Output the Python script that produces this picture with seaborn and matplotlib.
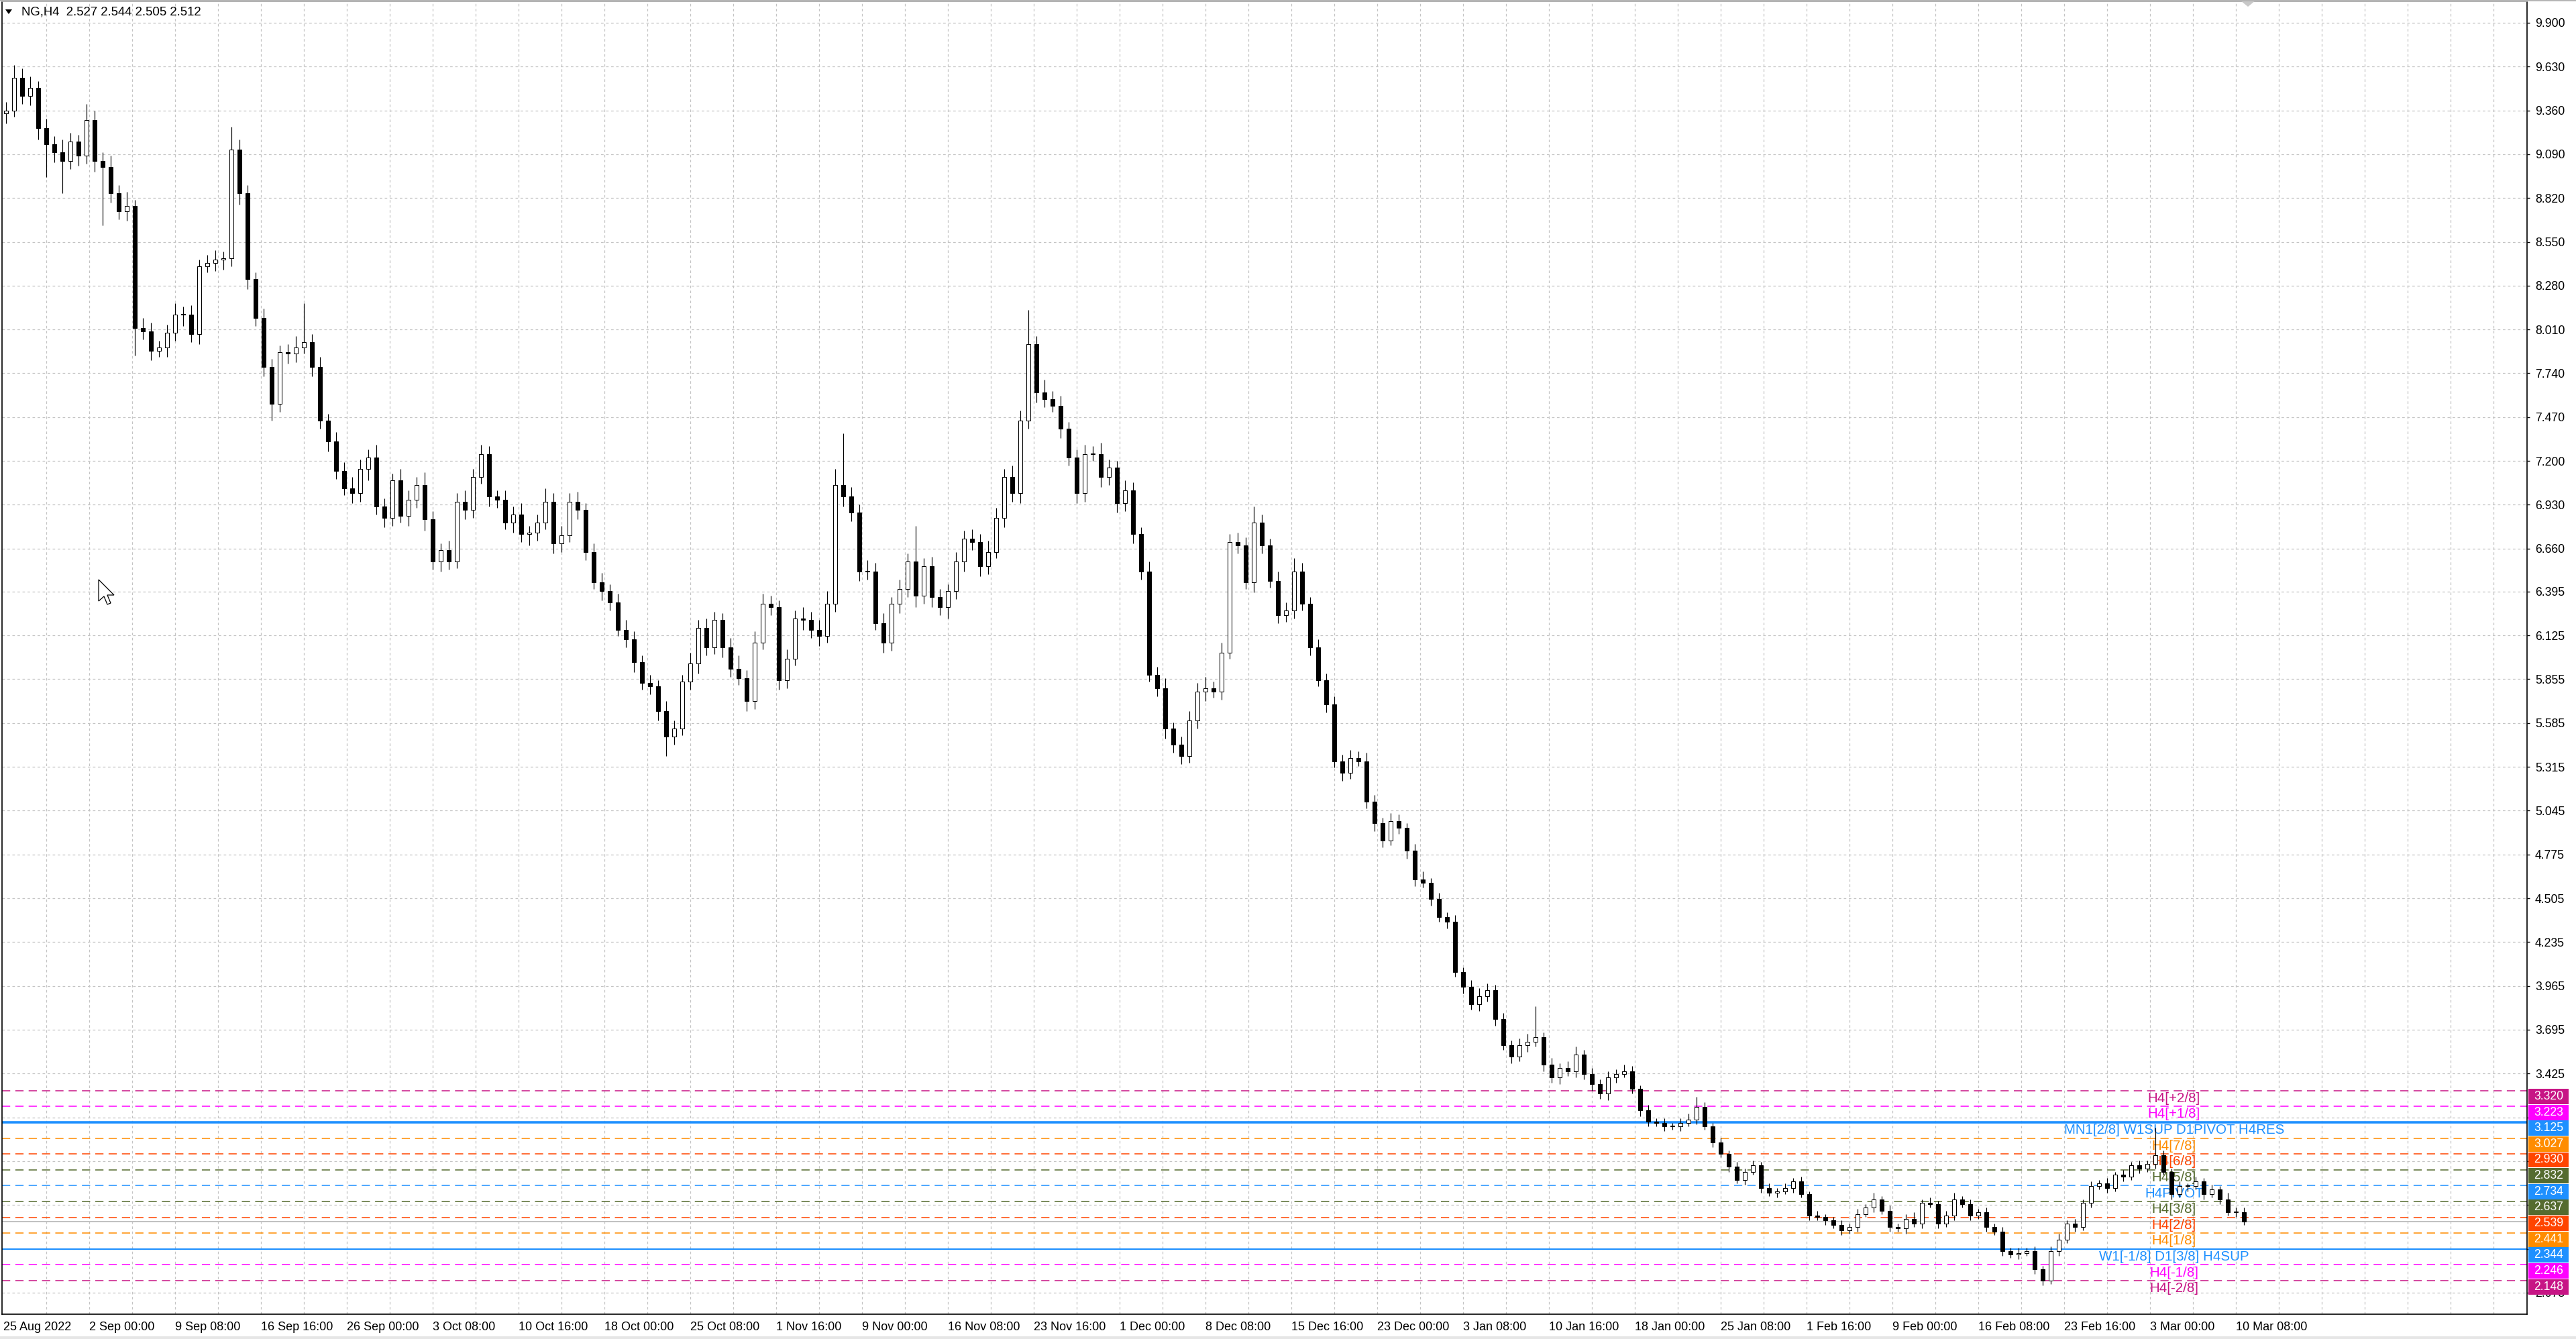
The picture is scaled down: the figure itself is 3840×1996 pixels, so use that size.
import numpy as np
import matplotlib.pyplot as plt
import seaborn as sns
from matplotlib.patches import Rectangle, Polygon
from matplotlib.lines import Line2D
from matplotlib.transforms import blended_transform_factory

# =============================================================================
# DATA (NG, H4 - every candle here groups 3 H4 bars)
# =============================================================================
title_text = "NG,H4  2.527 2.544 2.505 2.512"
bars_per_candle = 3
first_open = 9.34

closes = [
    9.36, 9.56, 9.45, 9.50, 9.25, 9.15, 9.10, 9.05, 9.17, 9.08, 9.30, 9.05, 9.01, 8.85, 8.74, 8.77, 8.02, 8.00, 7.88, 7.90,
    7.99, 8.10, 8.10, 7.98, 8.40, 8.42, 8.44, 8.45, 9.12, 8.85, 8.32, 8.08, 7.78, 7.55, 7.87, 7.86, 7.90, 7.93, 7.78, 7.45,
    7.32, 7.14, 7.03, 7.00, 7.15, 7.22, 6.92, 6.85, 7.08, 6.86, 6.96, 7.05, 6.84, 6.58, 6.65, 6.58, 6.95, 6.90, 7.10, 7.24,
    6.98, 6.96, 6.82, 6.87, 6.75, 6.76, 6.82, 6.95, 6.69, 6.74, 6.95, 6.90, 6.64, 6.45, 6.40, 6.33, 6.16, 6.10, 5.96, 5.83,
    5.81, 5.66, 5.50, 5.55, 5.84, 5.95, 6.17, 6.05, 6.22, 6.05, 5.92, 5.86, 5.72, 6.08, 6.32, 6.30, 5.85, 5.98, 6.23, 6.22,
    6.16, 6.12, 6.32, 7.05, 6.98, 6.88, 6.52, 6.52, 6.20, 6.08, 6.32, 6.41, 6.58, 6.37, 6.55, 6.36, 6.30, 6.40, 6.58, 6.72,
    6.70, 6.55, 6.64, 6.85, 7.10, 7.00, 7.45, 7.92, 7.62, 7.58, 7.54, 7.40, 7.22, 7.00, 7.24, 7.24, 7.10, 7.16, 6.94, 7.02,
    6.75, 6.52, 5.88, 5.80, 5.55, 5.45, 5.38, 5.60, 5.78, 5.80, 5.78, 6.02, 6.70, 6.68, 6.45, 6.82, 6.68, 6.46, 6.25, 6.28,
    6.52, 6.32, 6.05, 5.85, 5.70, 5.35, 5.28, 5.37, 5.35, 5.10, 4.97, 4.86, 4.98, 4.94, 4.80, 4.62, 4.60, 4.50, 4.39, 4.36,
    4.05, 3.96, 3.85, 3.90, 3.94, 3.76, 3.60, 3.53, 3.60, 3.62, 3.65, 3.48, 3.40, 3.46, 3.44, 3.54, 3.42, 3.36, 3.30, 3.40,
    3.42, 3.44, 3.33, 3.20, 3.13, 3.12, 3.10, 3.10, 3.12, 3.14, 3.22, 3.10, 3.00, 2.93, 2.85, 2.77, 2.82, 2.86, 2.72, 2.69,
    2.70, 2.72, 2.76, 2.68, 2.55, 2.54, 2.52, 2.49, 2.46, 2.48, 2.56, 2.60, 2.65, 2.58, 2.48, 2.47, 2.53, 2.50, 2.63, 2.62,
    2.50, 2.55, 2.65, 2.62, 2.55, 2.57, 2.48, 2.45, 2.33, 2.31, 2.32, 2.33, 2.22, 2.15, 2.33, 2.40, 2.50, 2.48, 2.63, 2.73,
    2.75, 2.72, 2.80, 2.79, 2.86, 2.84, 2.87, 2.92, 2.82, 2.68, 2.73, 2.73, 2.76, 2.68, 2.71, 2.65, 2.57, 2.57, 2.512,
]

upper_wick = [
    0.05, 0.08, 0.06, 0.07, 0.04, 0.06, 0.05, 0.08, 0.05, 0.04, 0.10, 0.06, 0.05, 0.07, 0.05, 0.09, 0.04, 0.06, 0.05, 0.04,
    0.05, 0.07, 0.05, 0.06, 0.04, 0.05, 0.06, 0.04, 0.14, 0.06, 0.05, 0.04, 0.06, 0.05, 0.04, 0.05, 0.07, 0.24, 0.05, 0.06,
    0.04, 0.06, 0.05, 0.07, 0.06, 0.05, 0.08, 0.05, 0.04, 0.07, 0.06, 0.05, 0.08, 0.05, 0.04, 0.06, 0.05, 0.07, 0.05, 0.06,
    0.05, 0.04, 0.06, 0.05, 0.07, 0.04, 0.05, 0.08, 0.05, 0.06, 0.05, 0.06, 0.04, 0.05, 0.06, 0.04, 0.05, 0.06, 0.05, 0.04,
    0.05, 0.04, 0.06, 0.05, 0.04, 0.07, 0.05, 0.06, 0.05, 0.04, 0.06, 0.08, 0.05, 0.07, 0.06, 0.05, 0.04, 0.06, 0.05, 0.07,
    0.05, 0.06, 0.08, 0.10, 0.32, 0.06, 0.05, 0.07, 0.05, 0.06, 0.04, 0.06, 0.05, 0.22, 0.05, 0.06, 0.05, 0.04, 0.06, 0.05,
    0.06, 0.05, 0.07, 0.06, 0.05, 0.07, 0.06, 0.21, 0.05, 0.08, 0.05, 0.06, 0.04, 0.05, 0.06, 0.05, 0.07, 0.05, 0.04, 0.06,
    0.05, 0.04, 0.06, 0.05, 0.06, 0.04, 0.05, 0.06, 0.05, 0.07, 0.04, 0.06, 0.05, 0.06, 0.05, 0.10, 0.05, 0.04, 0.06, 0.05,
    0.08, 0.05, 0.04, 0.05, 0.04, 0.05, 0.04, 0.05, 0.04, 0.05, 0.04, 0.03, 0.05, 0.04, 0.03, 0.04, 0.05, 0.03, 0.04, 0.03,
    0.04, 0.03, 0.04, 0.05, 0.04, 0.03, 0.04, 0.03, 0.04, 0.05, 0.19, 0.03, 0.04, 0.03, 0.04, 0.05, 0.03, 0.04, 0.03, 0.04,
    0.03, 0.04, 0.03, 0.02, 0.03, 0.02, 0.03, 0.02, 0.03, 0.04, 0.06, 0.03, 0.02, 0.03, 0.02, 0.03, 0.02, 0.03, 0.02, 0.03,
    0.02, 0.03, 0.02, 0.03, 0.02, 0.03, 0.02, 0.02, 0.03, 0.02, 0.03, 0.02, 0.04, 0.02, 0.03, 0.02, 0.03, 0.04, 0.02, 0.03,
    0.02, 0.03, 0.04, 0.02, 0.03, 0.02, 0.03, 0.02, 0.03, 0.02, 0.03, 0.02, 0.03, 0.02, 0.03, 0.04, 0.02, 0.03, 0.02, 0.03,
    0.02, 0.03, 0.02, 0.03, 0.02, 0.03, 0.02, 0.17, 0.03, 0.02, 0.03, 0.02, 0.03, 0.02, 0.03, 0.02, 0.04, 0.03, 0.03,
]

lower_wick = [
    0.06, 0.04, 0.05, 0.06, 0.07, 0.20, 0.06, 0.20, 0.05, 0.06, 0.05, 0.07, 0.36, 0.06, 0.05, 0.06, 0.17, 0.05, 0.06, 0.04,
    0.06, 0.05, 0.07, 0.05, 0.06, 0.04, 0.05, 0.06, 0.05, 0.07, 0.06, 0.05, 0.06, 0.10, 0.05, 0.06, 0.05, 0.04, 0.06, 0.05,
    0.06, 0.05, 0.04, 0.06, 0.05, 0.07, 0.05, 0.06, 0.05, 0.04, 0.06, 0.05, 0.07, 0.05, 0.06, 0.05, 0.04, 0.06, 0.05, 0.04,
    0.06, 0.05, 0.04, 0.06, 0.05, 0.07, 0.05, 0.04, 0.06, 0.05, 0.04, 0.06, 0.05, 0.04, 0.06, 0.05, 0.04, 0.05, 0.06, 0.04,
    0.05, 0.06, 0.12, 0.05, 0.04, 0.05, 0.06, 0.05, 0.04, 0.06, 0.05, 0.04, 0.06, 0.05, 0.04, 0.05, 0.06, 0.05, 0.04, 0.06,
    0.05, 0.06, 0.04, 0.05, 0.06, 0.05, 0.06, 0.05, 0.04, 0.06, 0.05, 0.06, 0.05, 0.07, 0.05, 0.06, 0.05, 0.07, 0.05, 0.06,
    0.05, 0.06, 0.05, 0.04, 0.06, 0.05, 0.06, 0.05, 0.06, 0.05, 0.04, 0.06, 0.05, 0.06, 0.05, 0.04, 0.06, 0.05, 0.06, 0.05,
    0.06, 0.05, 0.04, 0.05, 0.06, 0.05, 0.05, 0.04, 0.05, 0.06, 0.04, 0.05, 0.04, 0.05, 0.04, 0.06, 0.05, 0.04, 0.05, 0.04,
    0.05, 0.04, 0.05, 0.04, 0.05, 0.04, 0.05, 0.04, 0.03, 0.04, 0.05, 0.04, 0.03, 0.04, 0.05, 0.04, 0.03, 0.04, 0.03, 0.04,
    0.03, 0.04, 0.03, 0.04, 0.03, 0.04, 0.03, 0.04, 0.03, 0.04, 0.03, 0.04, 0.03, 0.04, 0.03, 0.04, 0.03, 0.04, 0.03, 0.04,
    0.03, 0.02, 0.03, 0.04, 0.03, 0.02, 0.03, 0.02, 0.03, 0.02, 0.03, 0.02, 0.03, 0.02, 0.03, 0.02, 0.03, 0.02, 0.03, 0.02,
    0.03, 0.02, 0.03, 0.02, 0.03, 0.02, 0.03, 0.02, 0.03, 0.02, 0.03, 0.02, 0.03, 0.02, 0.03, 0.02, 0.03, 0.02, 0.03, 0.02,
    0.03, 0.02, 0.03, 0.02, 0.03, 0.02, 0.03, 0.02, 0.03, 0.02, 0.03, 0.02, 0.03, 0.03, 0.02, 0.03, 0.02, 0.03, 0.02, 0.03,
    0.02, 0.03, 0.02, 0.03, 0.02, 0.03, 0.02, 0.03, 0.02, 0.03, 0.02, 0.03, 0.02, 0.03, 0.02, 0.03, 0.02, 0.03, 0.02,
]

# one date label every 32 H4 bars
date_labels = [
    "25 Aug 2022", "2 Sep 00:00", "9 Sep 08:00", "16 Sep 16:00", "26 Sep 00:00", "3 Oct 08:00",
    "10 Oct 16:00", "18 Oct 00:00", "25 Oct 08:00", "1 Nov 16:00", "9 Nov 00:00", "16 Nov 08:00",
    "23 Nov 16:00", "1 Dec 00:00", "8 Dec 08:00", "15 Dec 16:00", "23 Dec 00:00", "3 Jan 08:00",
    "10 Jan 16:00", "18 Jan 00:00", "25 Jan 08:00", "1 Feb 16:00", "9 Feb 00:00", "16 Feb 08:00",
    "23 Feb 16:00", "3 Mar 00:00", "10 Mar 08:00",
]

price_ticks = [9.900, 9.630, 9.360, 9.090, 8.820, 8.550, 8.280, 8.010, 7.740, 7.470,
               7.200, 6.930, 6.660, 6.395, 6.125, 5.855, 5.585, 5.315, 5.045, 4.775,
               4.505, 4.235, 3.965, 3.695, 3.425, 3.155, 2.885, 2.615, 2.345, 2.075]
hidden_ticks = [3.155, 2.885, 2.615, 2.345]

level_prices = [3.320, 3.223, 3.125, 3.027, 2.930, 2.832, 2.734, 2.637, 2.539, 2.441, 2.344, 2.246, 2.148]
level_names = ["H4[+2/8]", "H4[+1/8]", "MN1[2/8] W1SUP D1PIVOT H4RES", "H4[7/8]", "H4[6/8]", "H4[5/8]",
               "H4PIVOT", "H4[3/8]", "H4[2/8]", "H4[1/8]", "W1[-1/8] D1[3/8] H4SUP", "H4[-1/8]", "H4[-2/8]"]
level_colors = ["#C71585", "#FF00FF", "#1E90FF", "#FF8C00", "#FF4500", "#556B2F", "#1E90FF",
                "#556B2F", "#FF4500", "#FF8C00", "#1E90FF", "#FF00FF", "#C71585"]
level_kind = ["dash", "dash", "thick", "dash", "dash", "dash", "dash",
              "dash", "dash", "dash", "solid", "dash", "dash"]
bid_price = 2.512

# =============================================================================
# STYLE / FIGURE
# =============================================================================
sns.set_style("white")
plt.rcParams['font.family'] = ['Liberation Sans', 'DejaVu Sans']

W, H = 3840, 1996
fig = plt.figure(figsize=(W / 100, H / 100), dpi=100)
fig.patch.set_facecolor('white')
ax = fig.add_axes([3 / W, 37 / H, (3767 - 3) / W, (1996 - 2 - 37) / H])
ax.set_facecolor('white')

closes = np.array(closes)
opens = np.concatenate([[first_open], closes[:-1]])
highs = np.maximum(opens, closes) + np.array(upper_wick)
lows = np.minimum(opens, closes) - np.array(lower_wick)
xpos = np.arange(len(closes)) * bars_per_candle + 1

# grid (dashed light grey)
grid_kw = dict(color='#c4c4c4', lw=0.9, ls=(0, (3, 3)), zorder=0.5)
for p in price_ticks:
    ax.axhline(p, **grid_kw)
for b in range(16, 941, 16):
    ax.axvline(b, **grid_kw)

# levels
for p, name, c, kind in zip(level_prices, level_names, level_colors, level_kind):
    if kind == "thick":
        ax.axhline(p, color=c, lw=2.6, zorder=1)
    elif kind == "solid":
        ax.axhline(p, color=c, lw=1.5, zorder=1)
    else:
        ax.axhline(p, color=c, lw=1.1, ls=(0, (8, 5)), zorder=1)
    ax.text(809, p - 0.048, name, color=c, fontsize=14.8, ha='center', va='center', zorder=1.5)

ax.axhline(bid_price, color='#c0c0c0', lw=1.4, zorder=1.2)

# candles
up = closes >= opens
ax.vlines(xpos, lows, highs, color='black', lw=0.85, zorder=3)
body_h = np.maximum(np.abs(closes - opens), 0.004)
body_b = np.minimum(opens, closes)
ax.bar(xpos[up], body_h[up], bottom=body_b[up], width=1.6, color='white',
       edgecolor='black', linewidth=0.75, zorder=4)
ax.bar(xpos[~up], body_h[~up], bottom=body_b[~up], width=1.6, color='black',
       edgecolor='black', linewidth=0.75, zorder=4)

ax.set_xlim(-0.5, 940.5)
ax.set_ylim(1.942, 10.032)

# axes look
ax.yaxis.tick_right()
ax.set_yticks(price_ticks)
ax.set_yticklabels(["" if p in hidden_ticks else f"{p:.3f}" for p in price_ticks])
ax.set_xticks(np.arange(len(date_labels)) * 32)
ax.set_xticklabels(date_labels, ha='left')
ax.tick_params(axis='y', length=3, width=1, pad=5.5, labelsize=12.7, colors='black')
ax.tick_params(axis='x', length=3.5, width=1, pad=4.5, labelsize=13, colors='black')
ax.grid(False)
for side in ['left', 'bottom', 'right']:
    ax.spines[side].set_color('black')
    ax.spines[side].set_linewidth(1.2)
ax.spines['top'].set_color('#a8a8a8')
ax.spines['top'].set_linewidth(1.2)

# price tags at the right scale
blend = blended_transform_factory(fig.transFigure, ax.transData)
for p, c in zip(level_prices, level_colors):
    ax.add_patch(Rectangle((3769 / W, p - 0.0845), 60 / W, 0.0948, transform=blend,
                           facecolor=c, edgecolor='none', clip_on=False, zorder=5))
    ax.text(3799 / W, p - 0.037, f"{p:.3f}", transform=blend, color='white',
            fontsize=12.7, ha='center', va='center', zorder=6, clip_on=False)

# header
fig.text(32 / W, 1 - 18 / H, title_text, fontsize=13.4, ha='left', va='center', color='black')
fig.add_artist(Polygon([(8 / W, 1 - 14 / H), (18 / W, 1 - 14 / H), (13 / W, 1 - 21 / H)],
                       closed=True, facecolor='black', edgecolor='none', transform=fig.transFigure))
# chart shift marker at top
fig.add_artist(Polygon([(3340 / W, 1 - 1 / H), (3362 / W, 1 - 1 / H), (3351 / W, 1 - 10 / H)],
                       closed=True, facecolor='#c8c8c8', edgecolor='none', transform=fig.transFigure))

# mouse pointer
tip_x, tip_y = 147, 864
cursor = [(0, 0), (0, 32), (8, 25), (13, 37), (18, 35), (13, 23), (23, 23)]
fig.add_artist(Polygon([((tip_x + dx) / W, 1 - (tip_y + dy) / H) for dx, dy in cursor],
                       closed=True, facecolor='white', edgecolor='black', linewidth=0.9,
                       transform=fig.transFigure, zorder=10))

# window border lines
fig.add_artist(Line2D([0, 1], [1 - 0.5 / H, 1 - 0.5 / H], color='#a8a8a8', lw=1.2, transform=fig.transFigure))
fig.add_artist(Rectangle((0, 0), 1, 4 / H, facecolor='#e6e6e6', edgecolor='none', transform=fig.transFigure))

fig.savefig('out.png', dpi=100, facecolor='white')
